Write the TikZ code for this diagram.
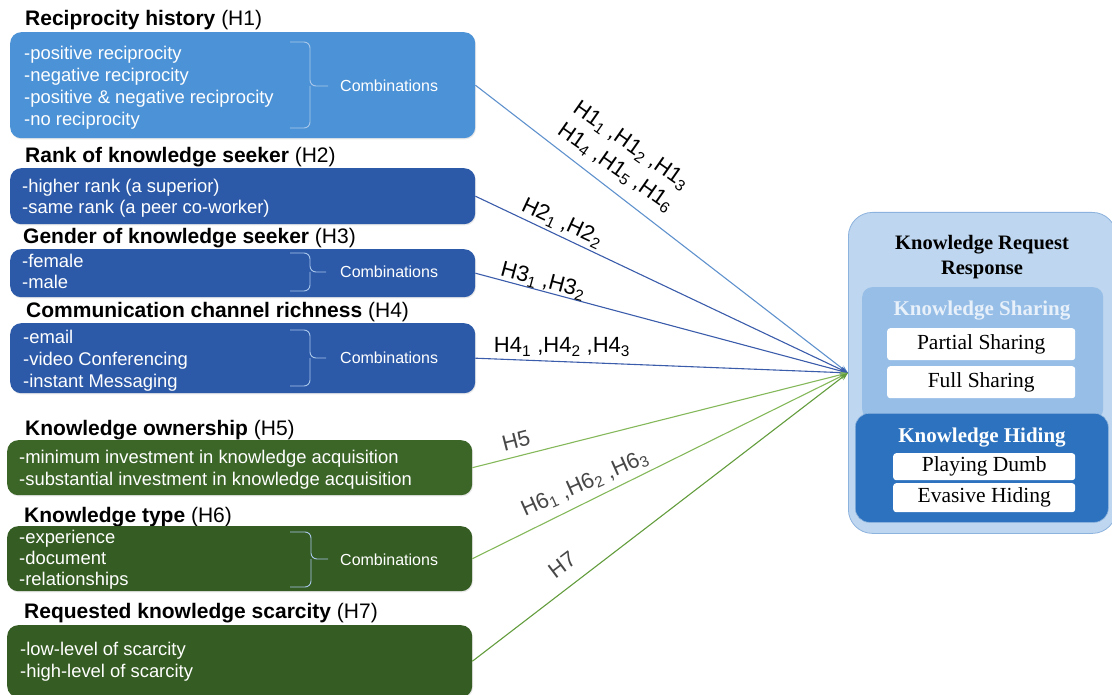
\documentclass[tikz,border=0pt]{standalone}
\usepackage{fontspec}
\setmainfont{Liberation Sans}
\newfontfamily\serifface{Liberation Serif}
\usetikzlibrary{arrows.meta,shadows}

\definecolor{boxlight}{RGB}{76,146,214}
\definecolor{boxdark}{RGB}{44,90,168}
\definecolor{boxgreen}{RGB}{60,101,40}
\definecolor{boxgreendk}{RGB}{53,92,34}
\definecolor{lineblue}{RGB}{95,146,205}
\definecolor{linedark}{RGB}{58,92,170}
\definecolor{linegreen}{RGB}{132,184,90}
\definecolor{linegreendk}{RGB}{98,156,60}
\definecolor{outerfill}{RGB}{190,214,239}
\definecolor{outerline}{RGB}{140,178,222}
\definecolor{sharefill}{RGB}{150,190,231}
\definecolor{sharetitle}{RGB}{232,240,250}
\definecolor{hidefill}{RGB}{44,114,190}
\definecolor{bracecol}{RGB}{170,200,236}

\begin{document}
\begin{tikzpicture}[x=1pt,y=-1pt,
  fbox/.style={draw=none, rounded corners=11pt, anchor=north west, inner sep=0pt,
    drop shadow={opacity=0.18, shadow xshift=0.8pt, shadow yshift=-1.2pt}},
  head/.style={anchor=base west, inner sep=0pt, font=\fontsize{21}{25}\selectfont},
  item/.style={anchor=base west, inner sep=0pt, text=white, font=\fontsize{18.4}{22}\selectfont},
  comb/.style={anchor=base west, inner sep=0pt, text=white, font=\fontsize{16}{19}\selectfont},
  brc/.style={draw=bracecol, line width=0.9pt, rounded corners=6pt},
  link/.style={line width=1.1pt, -{Stealth[length=8pt,width=6pt]}},
  lbl/.style={inner sep=0pt, font=\fontsize{22}{27}\selectfont, align=center},
  panel/.style={anchor=north west, inner sep=0pt},
  choice/.style={fill=white, rounded corners=3pt, inner sep=0pt, anchor=north west,
    minimum height=32pt},
  choicetext/.style={inner sep=0pt, font=\serifface\fontsize{21.5}{25}\selectfont},
  ptitle/.style={inner sep=0pt, anchor=base, font=\serifface\bfseries\fontsize{21}{25}\selectfont}
]
\useasboundingbox (0,0) rectangle (1112,695);

% ---------- left column: factors ----------
% H1
\node[head] (h1) at (25,26) {\textbf{Reciprocity history} (H1)};
\node[fbox, fill=boxlight, minimum width=465pt, minimum height=106pt] (b1) at (10,32) {};
\foreach \t [count=\k] in {-positive reciprocity, -negative reciprocity,
    -positive \& negative reciprocity, -no reciprocity}
  \node[item] (b1l\k) at (24,38.3+21.7*\k) {\t};
\draw[brc] (290,42) -| (310,86) -- (328,86) (310,86) |- (290,128);
\node[comb] (c1) at (340,92) {Combinations};

% H2
\node[head] (h2) at (25,163) {\textbf{Rank of knowledge seeker} (H2)};
\node[fbox, fill=boxdark, minimum width=465pt, minimum height=56pt] (b2) at (10,168) {};
\node[item] (b2l1) at (22,193) {-higher rank (a superior)};
\node[item] (b2l2) at (22,214) {-same rank (a peer co-worker)};

% H3
\node[head] (h3) at (23,244) {\textbf{Gender of knowledge seeker} (H3)};
\node[fbox, fill=boxdark, minimum width=465pt, minimum height=48pt] (b3) at (10,249) {};
\node[item] (b3l1) at (22,268) {-female};
\node[item] (b3l2) at (22,289) {-male};
\draw[brc] (290,253) -| (310,272) -- (326,272) (310,272) |- (290,291);
\node[comb] (c3) at (340,278) {Combinations};

% H4
\node[head] (h4) at (26,317) {\textbf{Communication channel richness} (H4)};
\node[fbox, fill=boxdark, minimum width=465pt, minimum height=70pt] (b4) at (10,323) {};
\node[item] (b4l1) at (23,343) {-email};
\node[item] (b4l2) at (23,365) {-video Conferencing};
\node[item] (b4l3) at (23,387) {-instant Messaging};
\draw[brc] (290,330) -| (310,358) -- (326,358) (310,358) |- (290,386);
\node[comb] (c4) at (340,363) {Combinations};

% H5
\node[head] (h5) at (25,435) {\textbf{Knowledge ownership} (H5)};
\node[fbox, fill=boxgreen, minimum width=465pt, minimum height=55pt] (b5) at (7,440) {};
\node[item] (b5l1) at (19,463) {-minimum investment in knowledge acquisition};
\node[item] (b5l2) at (19,485) {-substantial investment in knowledge acquisition};

% H6
\node[head] (h6) at (24,522) {\textbf{Knowledge type} (H6)};
\node[fbox, fill=boxgreendk, minimum width=465pt, minimum height=65pt] (b6) at (7,526) {};
\node[item] (b6l1) at (19,543) {-experience};
\node[item] (b6l2) at (19,564) {-document};
\node[item] (b6l3) at (19,585) {-relationships};
\draw[brc] (290,532) -| (311,559) -- (328,559) (311,559) |- (290,587);
\node[comb] (c6) at (340,565) {Combinations};

% H7
\node[head] (h7) at (24,618) {\textbf{Requested knowledge scarcity} (H7)};
\node[fbox, fill=boxgreendk, minimum width=465pt, minimum height=72pt] (b7) at (7,625) {};
\node[item] (b7l1) at (20,655) {-low-level of scarcity};
\node[item] (b7l2) at (20,677) {-high-level of scarcity};

% ---------- right column: response ----------
\node[panel, fill=outerfill, draw=outerline, line width=0.8pt, rounded corners=24pt,
  minimum width=268pt, minimum height=321pt] (resp) at (848,212) {};
\node[inner sep=0pt, align=center, font=\serifface\bfseries\fontsize{20.5}{25}\selectfont]
  (rtitle) at (982,257) {Knowledge Request\\Response};

\node[panel, fill=sharefill, rounded corners=10pt, minimum width=241pt, minimum height=132pt]
  (share) at (862,287) {};
\node[ptitle, text=sharetitle] (stitle) at (982,316) {Knowledge Sharing};
\node[choice, minimum width=188pt] (ps) at (887,328) {};
\node[choicetext] at (ps.center) (pst) {Partial Sharing};
\node[choice, minimum width=188pt] (fs) at (887,366) {};
\node[choicetext] at (fs.center) (fst) {Full Sharing};

\node[panel, fill=hidefill, draw=outerline, line width=0.6pt, rounded corners=14pt,
  minimum width=253pt, minimum height=109pt] (hide) at (855,413) {};
\node[ptitle, text=white] (htitle) at (982,442) {Knowledge Hiding};
\node[choice, minimum width=182pt, minimum height=27pt] (pd) at (893,453) {};
\node[choicetext] at (pd.center) (pdt) {Playing Dumb};
\node[choice, minimum width=182pt, minimum height=29pt] (eh) at (893,483) {};
\node[choicetext] at (eh.center) (eht) {Evasive Hiding};

% ---------- connectors ----------
\draw[link, lineblue] (b1.east) -- (resp.west);
\draw[link, linedark] (b2.east) -- (resp.west);
\draw[link, linedark] (b3.east) -- (resp.west);
\draw[link, linedark] (b4.east) -- (resp.west);
\draw[link, linegreen] (b5.east) -- (resp.west);
\draw[link, linegreen] (b6.east) -- (resp.west);
\draw[link, linegreendk] (b7.east) -- (resp.west);

% ---------- hypothesis labels ----------
\node[lbl, rotate=-35] (l1) at (623,157)
  {H1\textsubscript{1} ,H1\textsubscript{2} ,H1\textsubscript{3}\\
   H1\textsubscript{4} ,H1\textsubscript{5} ,H1\textsubscript{6}};
\node[lbl, rotate=-25] (l2) at (562,223) {H2\textsubscript{1} ,H2\textsubscript{2}};
\node[lbl, rotate=-15] (l3) at (543,281) {H3\textsubscript{1} ,H3\textsubscript{2}};
\node[lbl] (l4) at (562,347) {H4\textsubscript{1} ,H4\textsubscript{2} ,H4\textsubscript{3}};
\node[lbl, text=black!72, rotate=14.5] (l5) at (516,441) {H5};
\node[lbl, text=black!72, rotate=24] (l6) at (585,484) {H6\textsubscript{1} ,H6\textsubscript{2} ,H6\textsubscript{3}};
\node[lbl, text=black!72, rotate=37] (l7) at (562,565) {H7};
\end{tikzpicture}
\end{document}
